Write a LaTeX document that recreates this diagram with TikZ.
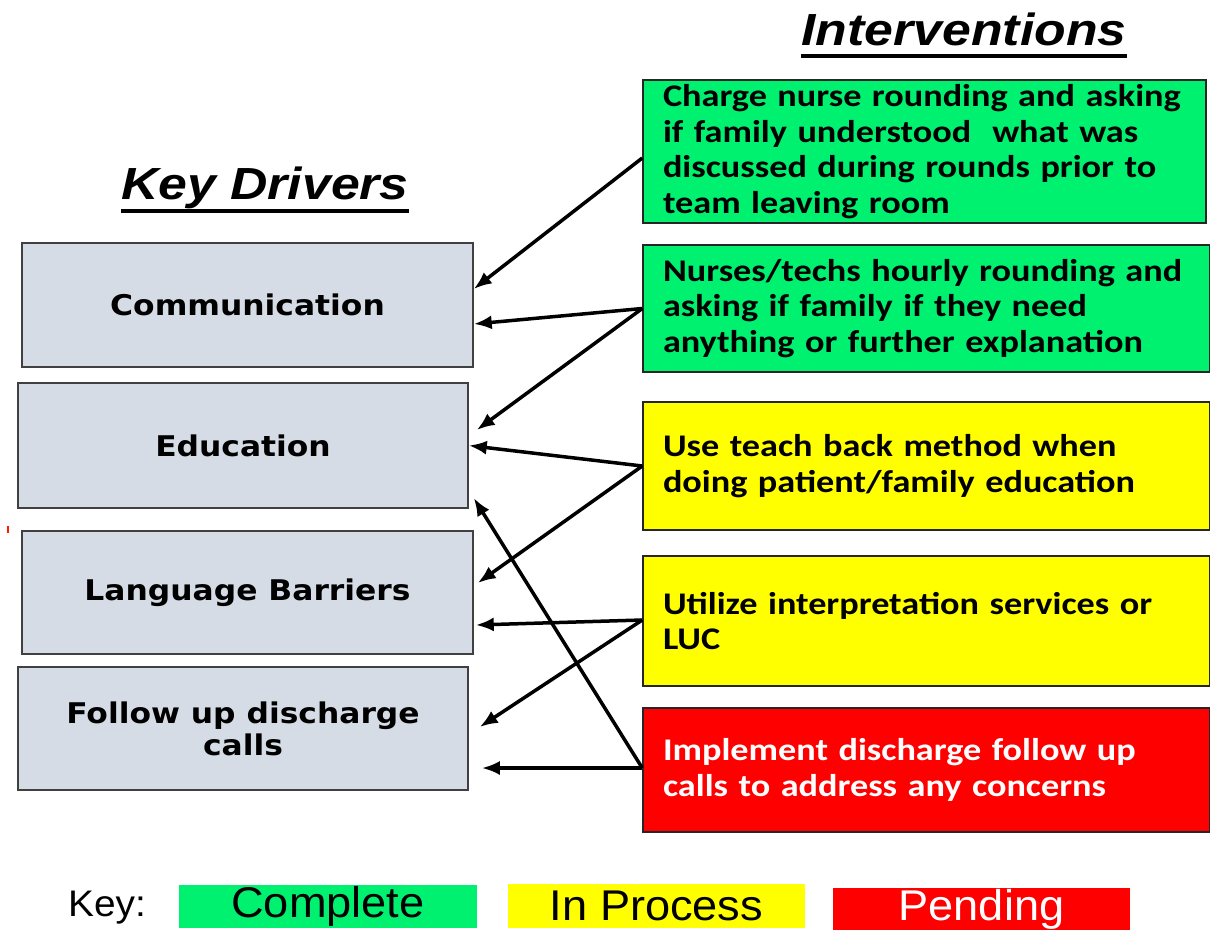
\documentclass[tikz,border=0pt]{standalone}
\usepackage{fontspec}
\setmainfont{Liberation Sans}
\newfontfamily\titlefont[FakeStretch=1.15]{Liberation Sans}
\newfontfamily\driverfont[FakeStretch=1.1]{DejaVu Sans}
\newfontfamily\actionfont[FakeStretch=1.15]{Carlito}
\newfontfamily\keyfont[FakeStretch=1.05]{Liberation Sans}
\usetikzlibrary{arrows.meta,calc}

\definecolor{drvfill}{RGB}{214,220,229}
\definecolor{drvline}{RGB}{64,64,64}
\definecolor{done}{RGB}{0,240,112}
\definecolor{wip}{RGB}{255,255,0}
\definecolor{todo}{RGB}{255,0,0}

\tikzset{
  heading/.style={inner sep=0pt, anchor=base, font=\titlefont\bfseries\itshape\fontsize{45}{50}\selectfont},
  driver/.style={draw=drvline, line width=1.5pt, fill=drvfill, minimum width=451pt,
    minimum height=124pt, inner sep=0pt, align=center,
    font=\driverfont\bfseries\fontsize{28.5}{32}\selectfont},
  action/.style={draw=black!85, line width=1.5pt, minimum width=567pt, text width=527pt,
    inner xsep=20pt, inner ysep=0pt, align=left,
    font=\actionfont\bfseries\fontsize{31.5}{35.5}\selectfont},
  keybox/.style={inner sep=0pt, minimum width=298pt, minimum height=43pt,
    font=\keyfont\fontsize{43}{44}\selectfont},
  link/.style={line width=3.5pt, -{Latex[length=18pt,width=14pt]}}
}

\begin{document}
\begin{tikzpicture}[x=1pt,y=-1pt]
\useasboundingbox[fill=white] (0,0) rectangle (1210,930);

% column headings
\node[heading] (hdrR) at (964,45) {Interventions};
\draw[line width=4pt] ([yshift=-11pt]hdrR.base west) -- ([yshift=-11pt]hdrR.base east);
\node[heading] (hdrL) at (265,199) {Key Drivers};
\draw[line width=4pt] ([yshift=-12pt]hdrL.base west) -- ([yshift=-12pt]hdrL.base east);

% key drivers
\node[driver] (comm) at (247.5,305) {Communication};
\node[driver, minimum width=450pt, minimum height=125pt] (edu) at (243,445.5) {Education};
\node[driver, minimum height=123pt] (lang) at (247.5,592.5) {Language Barriers};
\node[driver, minimum width=450pt, minimum height=123pt] (fu) at (243,728.5) {Follow up discharge\\calls};

% interventions
\node[action, fill=done, minimum width=563pt, text width=523pt, minimum height=143pt] (r1) at (924.5,151.5)
  {Charge nurse rounding and asking\\if family understood\ \ what was\\discussed during rounds prior to\\team leaving room};
\node[action, fill=done, minimum height=127pt] (r2) at (926.5,308.5)
  {Nurses/techs hourly rounding and\\asking if family if they need\\anything or further explanation};
\node[action, fill=wip, minimum height=128pt] (r3) at (926.5,466)
  {Use teach back method when\\doing patient/family education};
\node[action, fill=wip, minimum height=130pt] (r4) at (926.5,621)
  {Utilize interpretation services or\\LUC};
\node[action, fill=todo, text=white, minimum height=124pt] (r5) at (926.5,770)
  {Implement discharge follow up\\calls to address any concerns};

% links from interventions to drivers
\draw[link] ([yshift=-6.5pt]r1.west) -- ([yshift=16pt]comm.east);
\draw[link] (r2.west) -- ([yshift=-19pt]comm.east);
\draw[link] (r2.west) -- ([xshift=8pt,yshift=15.5pt]edu.east);
\draw[link] (r3.west) -- (edu.east);
\draw[link] (r3.west) -- ([xshift=4pt,yshift=9.5pt]lang.east);
\draw[link] ([yshift=1pt]r4.west) -- ([xshift=2pt,yshift=-32.5pt]lang.east);
\draw[link] ([yshift=1pt]r4.west) -- ([xshift=11pt,yshift=1.5pt]fu.east);
\draw[link] ([yshift=2pt]r5.west) -- ([xshift=13pt,yshift=-39.5pt]fu.east);
\draw[link] ([yshift=2pt]r5.west) -- ([xshift=5pt,yshift=-52.5pt]edu.east);

% small red tick at the left margin
\draw[red!80!orange, line width=1.5pt] (8,526) -- (8,533);

% key
\node[inner sep=0pt, font=\keyfont\fontsize{37}{40}\selectfont] (keylbl) at (107,908) {Key:};
\node[keybox, fill=done] (kdone) at (328,906.5) {Complete};
\node[keybox, fill=wip, minimum width=297pt, minimum height=44pt] (kwip) at (656.5,906) {In Process};
\node[keybox, fill=todo, text=white, minimum width=297pt, minimum height=42pt] (ktodo) at (981.5,909) {Pending};
\end{tikzpicture}
\end{document}
